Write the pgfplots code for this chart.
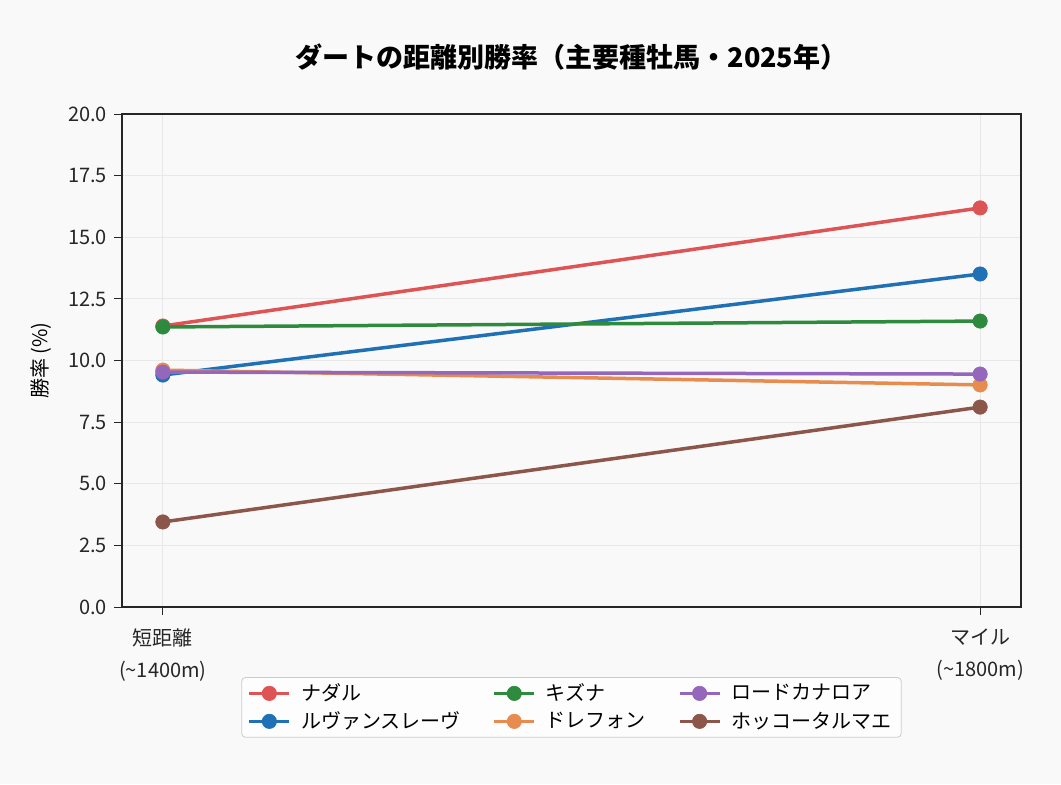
\documentclass[border=0pt]{standalone}
\usepackage{pgfplots}
\pgfplotsset{compat=1.18}
\usepackage{fontspec}
\setmainfont{Noto Sans CJK JP}
\definecolor{figbg}{HTML}{F9F9F9}
\definecolor{cNadal}{HTML}{DE5353}
\definecolor{cLuvan}{HTML}{1F70B5}
\definecolor{cKizuna}{HTML}{2E8B3E}
\definecolor{cDref}{HTML}{E88B4E}
\definecolor{cLord}{HTML}{9467BD}
\definecolor{cHokko}{HTML}{8C564B}
\begin{document}
\begin{tikzpicture}
\fill[figbg] (-61pt,-88.5pt) rectangle (469.5pt,303.5pt);
\begin{axis}[
  at={(0pt,0pt)}, anchor=south west,
  scale only axis, width=449.5pt, height=246.5pt,
  xmin=-0.05, xmax=1.05, ymin=0, ymax=20,
  xtick={0,1},
  xticklabels={{短距離\\(\textasciitilde1400m)},{マイル\\(\textasciitilde1800m)}},
  ytick={0,2.5,5,7.5,10,12.5,15,17.5,20},
  yticklabel style={/pgf/number format/.cd, fixed, fixed zerofill, precision=1, assume math mode=true},
  ticklabel style={font=\fontsize{10}{15.5}\selectfont, text=black!85},
  xticklabel style={align=center, yshift=-3.5pt, font=\fontsize{10}{16}\selectfont},
  tick align=outside, tick pos=left,
  major tick length=4pt,
  tick style={black!85, line width=0.5pt},
  axis line style={black!85, line width=0.6pt},
  grid=major, grid style={black!9, line width=0.5pt},
  axis background/.style={fill=figbg},
  title={\bfseries ダートの距離別勝率（主要種牡馬・2025年）},
  title style={at={(rel axis cs:0.5,1)}, anchor=center, yshift=22.5pt, font=\fontsize{13.5}{15}\selectfont},
  ylabel={勝率 (\%)},
  every axis y label/.style={at={(rel axis cs:-0.09,0.5)}, rotate=90, anchor=center, font=\fontsize{10}{12}\selectfont},
  legend columns=2,
  transpose legend,
  legend style={at={(rel axis cs:0.5,0)}, anchor=north, yshift=-35pt,
    font=\fontsize{10}{12}\selectfont, draw=black!20, fill=white!60!figbg, rounded corners=2pt,
    /tikz/every even column/.append style={column sep=14pt},
    /tikz/every odd column/.append style={column sep=3pt},
    row sep=0pt, inner xsep=3pt, inner ysep=1pt,
    legend cell align=left},
  legend image code/.code={
    \draw[#1, mark repeat=2, mark phase=2] plot coordinates {(0cm,0cm) (0.35cm,0cm) (0.7cm,0cm)};
  },
  every axis plot/.append style={line width=1.75pt, mark=*, mark size=3.6pt},
]
\addplot[cNadal, mark options={fill=cNadal, draw=cNadal, line width=0.3pt}] coordinates {(0,11.40) (1,16.19)};
\addlegendentry{ナダル}
\addplot[cLuvan, mark options={fill=cLuvan, draw=cLuvan, line width=0.3pt}] coordinates {(0,9.41) (1,13.51)};
\addlegendentry{ルヴァンスレーヴ}
\addplot[cKizuna, mark options={fill=cKizuna, draw=cKizuna, line width=0.3pt}] coordinates {(0,11.36) (1,11.60)};
\addlegendentry{キズナ}
\addplot[cDref, mark options={fill=cDref, draw=cDref, line width=0.3pt}] coordinates {(0,9.61) (1,9.01)};
\addlegendentry{ドレフォン}
\addplot[cLord, mark options={fill=cLord, draw=cLord, line width=0.3pt}] coordinates {(0,9.53) (1,9.45)};
\addlegendentry{ロードカナロア}
\addplot[cHokko, mark options={fill=cHokko, draw=cHokko, line width=0.3pt}] coordinates {(0,3.45) (1,8.11)};
\addlegendentry{ホッコータルマエ}
\end{axis}
\end{tikzpicture}
\end{document}
